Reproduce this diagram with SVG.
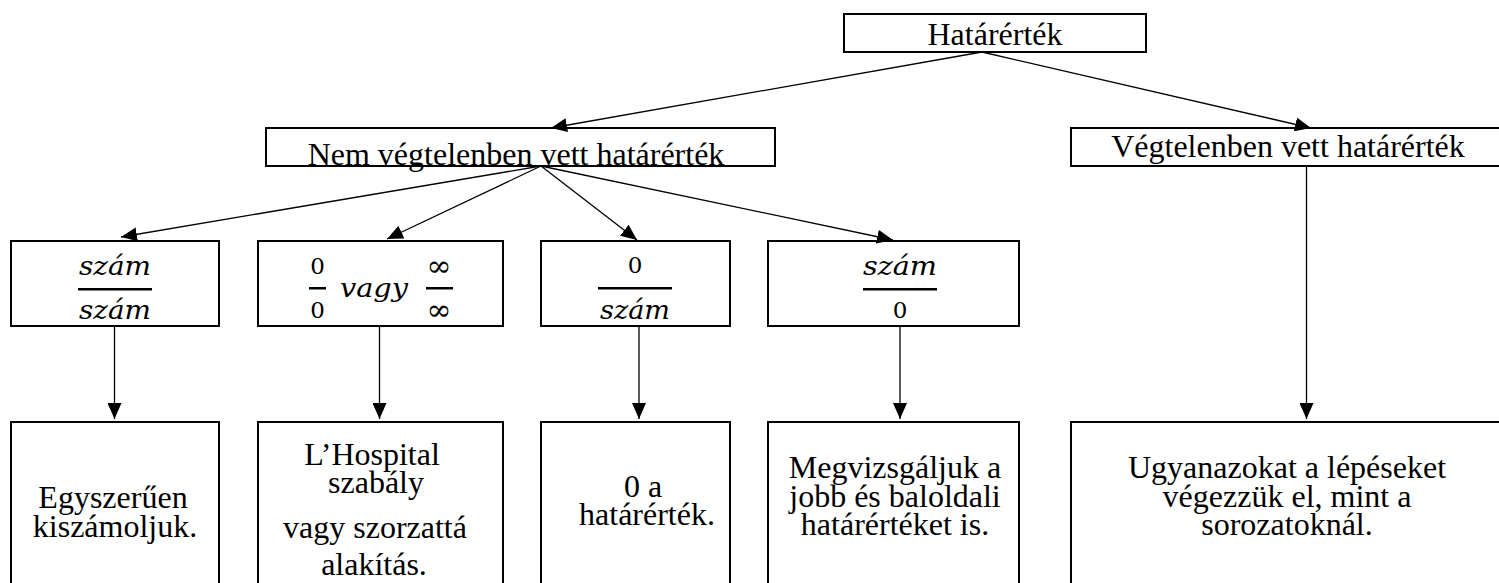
<svg xmlns="http://www.w3.org/2000/svg" width="1499" height="583" viewBox="0 0 1499 583">
<style>
.box{fill:#fff;stroke:#000;stroke-width:2}
.t{font-family:"Liberation Serif","Times New Roman",serif;font-size:32px;fill:#000;text-anchor:middle}
.m{font-family:"DejaVu Serif",serif;font-style:italic;font-size:26px;fill:#000;text-anchor:middle}
.n{font-family:"DejaVu Serif",serif;font-size:23px;fill:#000;text-anchor:middle}
.inf{font-family:"DejaVu Serif",serif;font-size:30px;fill:#000;text-anchor:middle}
.bar{fill:#000}
.c line{stroke:#000;stroke-width:1.3;marker-end:url(#ah)}
</style>
<defs>
<marker id="ah" viewBox="0 0 16 14" refX="16" refY="7" markerWidth="16" markerHeight="14" markerUnits="userSpaceOnUse" orient="auto">
<path d="M0,0 L16,7 L0,14 z" fill="#000"/>
</marker>
</defs>
<rect width="1499" height="583" fill="#fff"/>

<g id="n-hatarertek">
<rect class="box" x="844" y="14" width="302" height="38"/>
<text class="t" x="995" y="45">Határérték</text>
</g>

<g id="n-nem-vegtelen">
<rect class="box" x="266" y="128" width="509" height="38"/>
<text class="t" x="516" y="165">Nem végtelenben vett határérték</text>
</g>

<g id="n-vegtelen">
<rect class="box" x="1071" y="128" width="440" height="38"/>
<text class="t" x="1288" y="157">Végtelenben vett határérték</text>
</g>

<g id="n-szam-szam">
<rect class="box" x="11" y="241" width="208" height="85"/>
<text class="m" x="115" y="275" textLength="72" lengthAdjust="spacingAndGlyphs">szám</text>
<rect class="bar" x="78" y="288" width="74" height="2.5"/>
<text class="m" x="115" y="319" textLength="72" lengthAdjust="spacingAndGlyphs">szám</text>
</g>

<g id="n-null-vagy-vegtelen">
<rect class="box" x="258" y="241" width="245" height="85"/>
<text class="n" x="317.5" y="274">0</text>
<rect class="bar" x="309" y="287" width="17" height="2.5"/>
<text class="n" x="317.5" y="318">0</text>
<text class="m" x="374" y="297" textLength="68" lengthAdjust="spacingAndGlyphs">vagy</text>
<text class="inf" x="439" y="276" textLength="25" lengthAdjust="spacingAndGlyphs">∞</text>
<rect class="bar" x="426" y="287" width="27" height="2.5"/>
<text class="inf" x="439" y="320" textLength="25" lengthAdjust="spacingAndGlyphs">∞</text>
</g>

<g id="n-null-szam">
<rect class="box" x="541" y="241" width="189" height="85"/>
<text class="n" x="635" y="273">0</text>
<rect class="bar" x="598" y="287" width="74" height="2.5"/>
<text class="m" x="635" y="319" textLength="70" lengthAdjust="spacingAndGlyphs">szám</text>
</g>

<g id="n-szam-null">
<rect class="box" x="768" y="241" width="251" height="85"/>
<text class="m" x="900" y="275" textLength="74" lengthAdjust="spacingAndGlyphs">szám</text>
<rect class="bar" x="863" y="288" width="74" height="2.5"/>
<text class="n" x="900" y="318">0</text>
</g>

<g id="n-egyszeruen">
<rect class="box" x="11" y="422" width="208" height="180"/>
<text class="t" x="113" y="508">Egyszerűen</text>
<text class="t" x="115" y="537">kiszámoljuk.</text>
</g>

<g id="n-lhospital">
<rect class="box" x="258" y="422" width="245" height="180"/>
<text class="t" x="372" y="465">L’Hospital</text>
<text class="t" x="376" y="493">szabály</text>
<text class="t" x="375" y="538">vagy szorzattá</text>
<text class="t" x="374" y="575">alakítás.</text>
</g>

<g id="n-null-a-hatarertek">
<rect class="box" x="541" y="422" width="189" height="180"/>
<text class="t" x="643" y="497">0 a</text>
<text class="t" x="647" y="525">határérték.</text>
</g>

<g id="n-megvizsgaljuk">
<rect class="box" x="768" y="422" width="251" height="180"/>
<text class="t" x="895" y="478">Megvizsgáljuk a</text>
<text class="t" x="895" y="507">jobb és baloldali</text>
<text class="t" x="895" y="535">határértéket is.</text>
</g>

<g id="n-ugyanazokat">
<rect class="box" x="1071" y="422" width="440" height="180"/>
<text class="t" x="1287" y="478">Ugyanazokat a lépéseket</text>
<text class="t" x="1287" y="507">végezzük el, mint a</text>
<text class="t" x="1287" y="535">sorozatoknál.</text>
</g>

<g id="connectors" class="c">
<line x1="982" y1="52" x2="551" y2="128"/>
<line x1="982" y1="52" x2="1311" y2="128"/>
<line x1="541" y1="166" x2="121" y2="237"/>
<line x1="541" y1="166" x2="387" y2="239"/>
<line x1="541" y1="166" x2="637" y2="240"/>
<line x1="541" y1="166" x2="893" y2="240"/>
<line x1="114.5" y1="326" x2="114.5" y2="419"/>
<line x1="379.5" y1="326" x2="379.5" y2="419"/>
<line x1="639" y1="326" x2="639" y2="419"/>
<line x1="900" y1="326" x2="900" y2="419"/>
<line x1="1306.5" y1="166" x2="1306.5" y2="419"/>
</g>
</svg>
